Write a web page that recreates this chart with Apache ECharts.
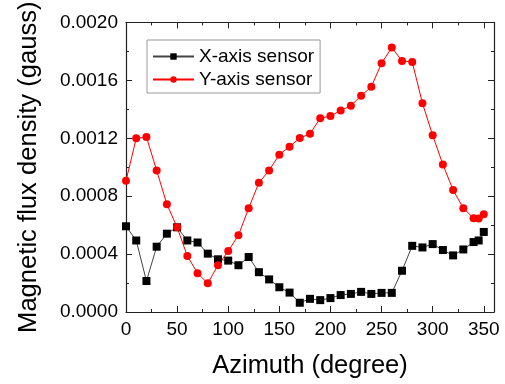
<!DOCTYPE html>
<html><head><meta charset="utf-8">
<script src="https://cdn.jsdelivr.net/npm/echarts@6/dist/echarts.min.js"></script>
<style>html,body{margin:0;padding:0;background:#fff}#c{width:505px;height:384px}</style>
</head><body><div id="c"></div>
<script>
var azimuth = [0,10,20,30,40,50,60,70,80,90,100,110,120,130,140,150,160,170,180,190,200,210,220,230,240,250,260,270,280,290,300,310,320,330,340,345,350];
var xSensor = [0.000592,0.000494,0.000214,0.000451,0.000541,0.000585,0.000494,0.000480,0.000403,0.000364,0.000355,0.000323,0.000380,0.000275,0.000225,0.000171,0.000134,0.000064,0.000091,0.000082,0.000096,0.000117,0.000125,0.000139,0.000125,0.000132,0.000132,0.000285,0.000457,0.000446,0.000469,0.000428,0.000391,0.000432,0.000483,0.000494,0.000553];
var ySensor = [0.000906,0.001200,0.001208,0.000978,0.000744,0.000585,0.000387,0.000268,0.000198,0.000323,0.000421,0.000530,0.000717,0.000892,0.000978,0.001087,0.001142,0.001201,0.001231,0.001338,0.001354,0.001392,0.001425,0.001493,0.001556,0.001718,0.001827,0.001734,0.001727,0.001442,0.001220,0.001019,0.000842,0.000717,0.000648,0.000646,0.000676];
var xTicks = [0,50,100,150,200,250,300,350];
var yTicks = ['0.0000','0.0004','0.0008','0.0012','0.0016','0.0020'];
var seriesNames = ['X-axis sensor','Y-axis sensor'];
var xName = 'Azimuth (degree)';
var yName = 'Magnetic flux density (gauss)';

var FONT = 'Liberation Sans, Arial, sans-serif';
var AX = '#222';
function pairs(ys){ return azimuth.map(function(a,i){ return [a, ys[i]]; }); }
function xa(pos, interval, len, labels, line, name){
  return {type:'value', position:pos, min:0, max:360, interval:interval,
    name: name||'', nameLocation:'middle', nameGap:41,
    nameTextStyle:{fontFamily:FONT, fontSize:25.5, color:'#000'},
    axisLine:{show:line, onZero:false, lineStyle:{color:AX, width:1.2}},
    axisTick:{show:true, inside:true, length:len, lineStyle:{color:AX, width:1}},
    axisLabel:{show:labels, margin:8, fontFamily:FONT, fontSize:19, color:'#000',
      formatter:function(v){ return xTicks.indexOf(v)>=0 ? String(v) : ''; }},
    splitLine:{show:false}};
}
function ya(pos, labels, name){
  return {type:'value', position:pos, min:0, max:0.002, interval:0.0004,
    name: name||'', nameLocation:'middle', nameGap:84,
    nameTextStyle:{fontFamily:FONT, fontSize:25.6, color:'#000'},
    axisLine:{show:true, onZero:false, lineStyle:{color:AX, width:1.2}},
    axisTick:{show:true, inside:true, length:6, lineStyle:{color:AX, width:1}},
    minorTick:{show:true, splitNumber:2, length:3, lineStyle:{color:AX, width:1}},
    axisLabel:{show:labels, margin:8, fontFamily:FONT, fontSize:19, color:'#000',
      formatter:function(v){ var i=Math.round(v/0.0004); return yTicks[i]||''; }},
    splitLine:{show:false}};
}
var chart = echarts.init(document.getElementById('c'), null, {renderer:'canvas'});
chart.setOption({
  backgroundColor:'#fff',
  animation:false,
  grid:{left:126, right:11, top:22, bottom:69},
  legend:{orient:'vertical', left:147, top:40, padding:[7,6,4,5], itemGap:4,
    itemWidth:41, itemHeight:8, borderColor:'#999', borderWidth:1, backgroundColor:'#fff',
    textStyle:{fontFamily:FONT, fontSize:19, color:'#000'},
    data:seriesNames},
  xAxis:[xa('bottom',50,6,true,true,xName), xa('bottom',25,3,false,false), xa('top',50,6,false,true), xa('top',25,3,false,false)],
  yAxis:[ya('left',true,yName), ya('right',false)],
  series:[
    {name:seriesNames[0], type:'line', data:pairs(xSensor), symbol:'rect', symbolSize:8,
      itemStyle:{color:'#000'}, lineStyle:{color:'#444', width:1}},
    {name:seriesNames[1], type:'line', data:pairs(ySensor), symbol:'circle', symbolSize:8,
      itemStyle:{color:'#ff0000'}, lineStyle:{color:'#ff0000', width:1}}
  ]
});
</script></body></html>
